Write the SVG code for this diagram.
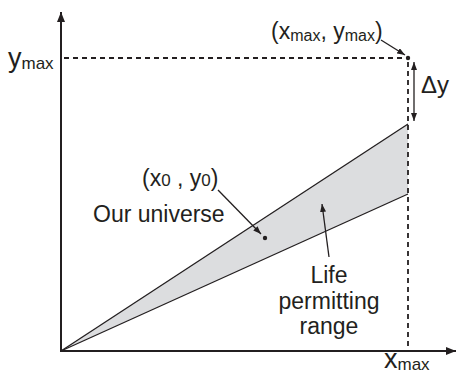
<svg xmlns="http://www.w3.org/2000/svg" width="457" height="374" viewBox="0 0 457 374">
<style>
text{font-family:"Liberation Sans",Arial,Helvetica,sans-serif;fill:#231f20}
.lbl{font-size:23px}
.big{font-size:27px}
.sub{font-size:17px}
.ssub{font-size:16px}
.ax{stroke:#231f20;stroke-width:2;fill:none}
.ln{stroke:#231f20;stroke-width:1.3;fill:none}
.dash{stroke:#231f20;stroke-width:1.8;stroke-dasharray:5 4;fill:none}
</style>
<defs>
<marker id="ah" viewBox="0 0 10 8" refX="10" refY="4" markerWidth="10" markerHeight="8" markerUnits="userSpaceOnUse" orient="auto-start-reverse">
<path d="M0,0 L10,4 L0,8 z" fill="#231f20"/>
</marker>
<marker id="sh" viewBox="0 0 8 6" refX="8" refY="3" markerWidth="8" markerHeight="6" markerUnits="userSpaceOnUse" orient="auto-start-reverse">
<path d="M0,0 L8,3 L0,6 z" fill="#231f20"/>
</marker>
</defs>
<g id="band">
<polygon points="61,351 408,124 408,194" fill="#dcdddf"/>
<line class="ln" x1="61" y1="351" x2="408" y2="124"/>
<line class="ln" x1="61" y1="351" x2="408" y2="194"/>
</g>
<g id="axes">
<line class="ax" x1="61" y1="352" x2="61" y2="12" marker-end="url(#ah)"/>
<line class="ax" x1="60" y1="351" x2="456" y2="351" marker-end="url(#ah)"/>
<text x="8" y="67" class="big">y<tspan class="sub" dy="2">max</tspan></text>
<text x="384" y="368" class="big">x<tspan class="sub" dy="2">max</tspan></text>
</g>
<g id="max-point">
<line class="dash" x1="64" y1="58" x2="406" y2="58"/>
<line class="dash" x1="408" y1="62" x2="408" y2="351"/>
<circle cx="408" cy="58" r="2.2" fill="#231f20"/>
<text x="271" y="39" class="lbl">(x<tspan class="ssub" dy="2">max</tspan><tspan dy="-2">, y</tspan><tspan class="ssub" dy="2">max</tspan><tspan dy="-2">)</tspan></text>
</g>
<g id="delta-y">
<text x="421" y="93" style="font-size:24px">Δy</text>
</g>
<g id="our-universe">
<circle cx="265" cy="238" r="2.2" fill="#231f20"/>
<text x="142" y="186" class="lbl">(x<tspan class="sub">0</tspan> , y<tspan class="sub">0</tspan>)</text>
<text x="93" y="222" class="lbl">Our universe</text>
</g>
<g id="life-range">
<text x="329" y="283" class="lbl" text-anchor="middle">Life</text>
<text x="329" y="309" class="lbl" text-anchor="middle">permitting</text>
<text x="329" y="334" class="lbl" text-anchor="middle">range</text>
</g>
<g id="connectors">
<line class="ln" x1="381" y1="40" x2="405" y2="55" marker-end="url(#sh)"/>
<line class="ln" x1="414" y1="62" x2="414" y2="121" marker-start="url(#sh)" marker-end="url(#sh)"/>
<line class="ln" x1="218" y1="190" x2="261" y2="234" marker-end="url(#sh)"/>
<line class="ln" x1="329" y1="257" x2="322" y2="204" marker-end="url(#sh)"/>
</g>
</svg>
